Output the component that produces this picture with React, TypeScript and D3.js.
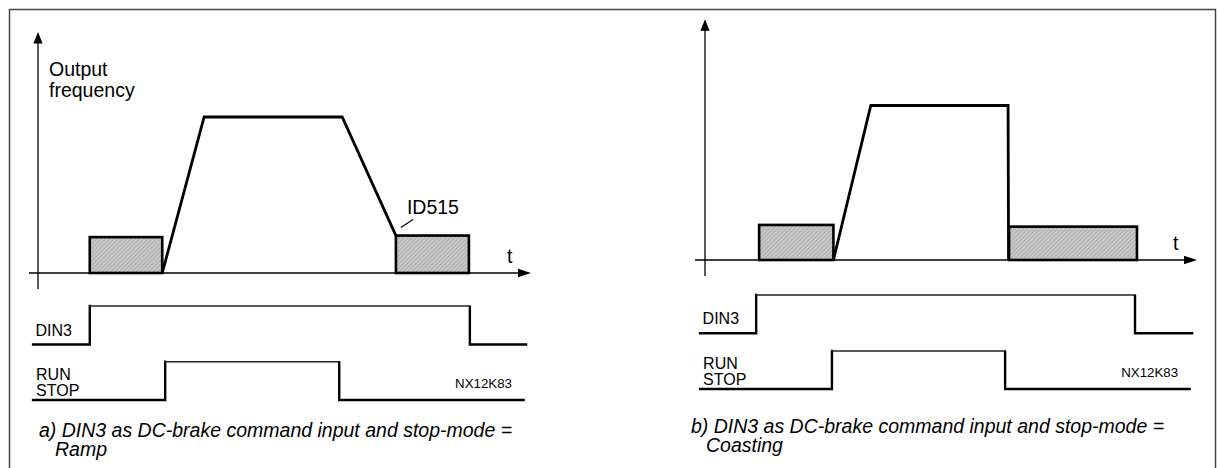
import React from 'react'
import * as d3 from 'd3'

// time is given in % of the t-axis length, frequency in % of max output frequency
const freqTimeA = [25.2, 33.7, 61.7, 72.6]
const freqValueA = [0, 100, 100, 24]
const freqTimeB = [26.1, 33.7, 61.6, 61.7]
const freqValueB = [0, 100, 100, 0]

// DC-brake intervals (start, end, level)
const brakeStartA = [10.5, 72.6]
const brakeEndA = [25.2, 87.4]
const brakeLevelA = [23, 24]
const brakeStartB = [11.0, 61.8]
const brakeEndB = [26.1, 87.8]
const brakeLevelB = [22.7, 21.6]

// digital signals: [switch on, switch off]
const din3A = [10.5, 87.6]
const runA = [25.8, 61.1]
const din3B = [10.4, 87.4]
const runB = [25.8, 61.0]
const din3Span = [-1, 99]
const runSpan = [-1, 98.5]

const captionLine1 = [
  'a) DIN3 as DC-brake command input and stop-mode =',
  'b) DIN3 as DC-brake command input and stop-mode =',
]
const captionLine2 = ['Ramp', 'Coasting']
const codeLabel = 'NX12K83'
const codeTime = 84.6

const FONT = '"Liberation Sans", Arial, sans-serif'

const layouts = [
  {
    x0: 38, x1: 531, axisY: 273, topY: 117, yTip: 32, axisLeft: 29,
    din3Low: 344.5, din3High: 306, runLow: 400, runHigh: 361.7,
    capX: 39, capY: 437, cap2X: 55, cap2Y: 456,
  },
  {
    x0: 705, x1: 1197, axisY: 260, topY: 105.5, yTip: 19.3, axisLeft: 695,
    din3Low: 333.3, din3High: 295, runLow: 389, runHigh: 351,
    capX: 691, capY: 433, cap2X: 706, cap2Y: 452,
  },
]

const panels = [
  {
    freqT: freqTimeA, freqV: freqValueA,
    brake: brakeStartA.map((s, i) => ({ start: s, end: brakeEndA[i], level: brakeLevelA[i] })),
    din3: din3A, run: runA, showYLabel: true, showId: true,
  },
  {
    freqT: freqTimeB, freqV: freqValueB,
    brake: brakeStartB.map((s, i) => ({ start: s, end: brakeEndB[i], level: brakeLevelB[i] })),
    din3: din3B, run: runB, showYLabel: false, showId: false,
  },
]

function Signal({ x, low, high, edges, span }: any) {
  const y = d3.scaleLinear().domain([0, 1]).range([low, high])
  const [on, off] = edges
  return (
    <g fill="none" strokeLinecap="square">
      <path d={`M${x(span[0])},${y(0)}H${x(on)}V${y(1)}`} stroke="#000" strokeWidth={2.4} />
      <path d={`M${x(on)},${y(1)}H${x(off)}`} stroke="#222" strokeWidth={1.6} />
      <path d={`M${x(off)},${y(1) + 1}V${y(0)}H${x(span[1])}`} stroke="#000" strokeWidth={2.4} />
    </g>
  )
}

function Panel({ p, l, idx }: any) {
  const x = d3.scaleLinear().domain([0, 100]).range([l.x0, l.x1])
  const y = d3.scaleLinear().domain([0, 100]).range([l.axisY, l.topY])
  const line = d3.line<number>().x((_, i) => x(p.freqT[i])).y((d) => y(d))
  const box2 = p.brake[1]
  return (
    <g>
      {/* axes */}
      <line x1={l.x0} x2={l.x0} y1={l.axisY + 16} y2={l.yTip + 10} stroke="#000" strokeWidth={1.3} />
      <path d={`M${l.x0},${l.yTip}l-4.6,11.5h9.2z`} fill="#000" />
      <line x1={l.axisLeft} x2={l.x1 - 10} y1={l.axisY} y2={l.axisY} stroke="#000" strokeWidth={1.3} />
      <path d={`M${l.x1},${l.axisY}l-13,-4.3v8.6z`} fill="#000" />
      <text x={l.x1 - 24} y={l.axisY - 10} fontSize={19.5} fontFamily={FONT}>t</text>

      {/* DC-brake boxes */}
      {p.brake.map((b: any, i: number) => (
        <rect key={i} x={x(b.start)} y={y(b.level)} width={x(b.end) - x(b.start)}
          height={y(0) - y(b.level)} fill="url(#hatch)" stroke="#000" strokeWidth={2.6} />
      ))}

      {/* output frequency */}
      <path d={line(p.freqV) || ''} fill="none" stroke="#000" strokeWidth={2.8} strokeLinejoin="miter" />

      {p.showYLabel && (
        <text x={l.x0 + 11} fontSize={19.5} fontFamily={FONT}>
          <tspan x={l.x0 + 11} y={76}>Output</tspan>
          <tspan x={l.x0 + 11} y={97}>frequency</tspan>
        </text>
      )}
      {p.showId && (
        <g>
          <line x1={x(box2.start) + 5} y1={y(box2.level) - 8} x2={x(box2.start) + 17} y2={y(box2.level) - 16}
            stroke="#000" strokeWidth={1.3} />
          <text x={x(box2.start) + 11} y={y(box2.level) - 22} fontSize={19.5} fontFamily={FONT}>ID515</text>
        </g>
      )}

      {/* signals */}
      <Signal x={x} low={l.din3Low} high={l.din3High} edges={p.din3} span={din3Span} />
      <Signal x={x} low={l.runLow} high={l.runHigh} edges={p.run} span={runSpan} />
      <text x={x(din3Span[0]) + 2.5} y={l.din3Low - 9} fontSize={16} fontFamily={FONT}>DIN3</text>
      <text fontSize={16} fontFamily={FONT}>
        <tspan x={x(runSpan[0]) + 3} y={l.runLow - 20.5}>RUN</tspan>
        <tspan x={x(runSpan[0]) + 3} y={l.runLow - 4.5}>STOP</tspan>
      </text>
      <text x={x(codeTime)} y={l.runLow - 11.7} fontSize={13.3} fontFamily={FONT}>{codeLabel}</text>

      {/* caption */}
      <text fontSize={19.5} fontStyle="italic" fontFamily={FONT}>
        <tspan x={l.capX} y={l.capY}>{captionLine1[idx]}</tspan>
        <tspan x={l.cap2X} y={l.cap2Y}>{captionLine2[idx]}</tspan>
      </text>
    </g>
  )
}

export default function App() {
  return (
    <svg width={1219} height={468} style={{ position: 'absolute', left: 0, top: 0, background: '#fff' }}>
      <defs>
        <pattern id="hatch" patternUnits="userSpaceOnUse" width={3} height={3} patternTransform="rotate(45)">
          <rect width={3} height={3} fill="#c6c6c6" />
          <line x1={0} y1={0} x2={0} y2={3} stroke="#9a9a9a" strokeWidth={1} />
        </pattern>
      </defs>
      <rect x={0} y={0} width={1219} height={468} fill="#fff" />
      {/* frame */}
      <path d="M9.5,470V9.5H1215.5V470" fill="none" stroke="#444" strokeWidth={1.5} />
      {panels.map((p, i) => (
        <Panel key={i} p={p} l={layouts[i]} idx={i} />
      ))}
    </svg>
  )
}
